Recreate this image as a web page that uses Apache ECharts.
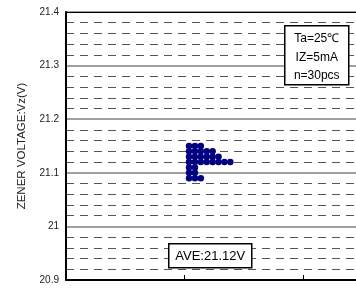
<!DOCTYPE html>
<html>
<head>
<meta charset="utf-8">
<script src="https://cdn.jsdelivr.net/npm/echarts@6/dist/echarts.min.js"></script>
<style>
html, body { margin: 0; padding: 0; background: #fff; }
#main { width: 356px; height: 290px; }
</style>
</head>
<body>
<div id="main"></div>
<script>
// 每个点：列序号 + 电压
var dotCol = [0, 1, 2,
    0, 1, 2, 3, 4,
    0, 1, 2, 3, 4, 5,
    0, 1, 2, 3, 4, 5, 6, 7,
    0, 1,
    0, 1,
    0, 1, 2];
var dotVz = [21.15, 21.15, 21.15,
    21.14, 21.14, 21.14, 21.14, 21.14,
    21.13, 21.13, 21.13, 21.13, 21.13, 21.13,
    21.12, 21.12, 21.12, 21.12, 21.12, 21.12, 21.12, 21.12,
    21.11, 21.11,
    21.10, 21.10,
    21.09, 21.09, 21.09];
var yLabels = ['20.9', '21', '21.1', '21.2', '21.3', '21.4'];
var condText = ['Ta=25℃', 'IZ=5mA', 'n=30pcs'];
var aveText = 'AVE:21.12V';

var chart = echarts.init(document.querySelector('#main'));

var dots = dotCol.map(function (c, i) { return [c, dotVz[i]]; });

var option = {
    animation: false,
    textStyle: { fontFamily: 'Liberation Sans, Arial, sans-serif' },
    grid: { left: 66, top: 12, right: 0, bottom: 10 },
    xAxis: [
        {
            type: 'value', min: 0, max: 2.447, interval: 1,
            axisLine: { lineStyle: { color: '#000', width: 2 } },
            axisTick: { inside: true, length: 5, lineStyle: { color: '#000' } },
            axisLabel: { show: false },
            splitLine: { show: false }
        },
        {
            type: 'value', min: -20.85, max: 28.3, show: false
        },
        {
            type: 'value', position: 'top', min: 0, max: 1,
            axisLine: { show: true, onZero: false, lineStyle: { color: '#000', width: 1 } },
            axisTick: { show: false }, axisLabel: { show: false }, splitLine: { show: false }
        }
    ],
    yAxis: {
        type: 'value', min: 20.9, max: 21.4, interval: 0.1,
        name: 'ZENER VOLTAGE:Vz(V)',
        nameLocation: 'middle', nameGap: 38, nameRotate: 90,
        nameTextStyle: { fontSize: 11.5, color: '#222' },
        axisLine: { show: true, lineStyle: { color: '#000', width: 2 } },
        axisTick: { show: false },
        axisLabel: {
            fontSize: 10, color: '#222', margin: 7,
            formatter: function (v) {
                var i = Math.round((v - 20.9) * 10);
                return yLabels[i];
            }
        },
        splitLine: { show: true, lineStyle: { color: '#808080', width: 1.5 } },
        minorTick: { show: false, splitNumber: 5 },
        minorSplitLine: { show: true, lineStyle: { color: '#555', width: 1, type: [8, 6] } }
    },
    series: [
        {
            type: 'scatter', xAxisIndex: 1,
            symbol: 'circle', symbolSize: 6.5,
            itemStyle: { color: '#000080', opacity: 1 },
            data: dots
        }
    ],
    graphic: [
        {
            type: 'group', left: 284, top: 25, z: 100,
            children: [
                { type: 'rect', z: 100, shape: { x: 0, y: 0, width: 64, height: 59 }, style: { fill: '#fff', stroke: '#000', lineWidth: 1.5 } },
                { type: 'text', z: 101, x: 32, y: 13, style: { text: condText[0], fill: '#000', font: '12px Liberation Sans', align: 'center', verticalAlign: 'middle' } },
                { type: 'text', z: 101, x: 32, y: 32, style: { text: condText[1], fill: '#000', font: '12px Liberation Sans', align: 'center', verticalAlign: 'middle' } },
                { type: 'text', z: 101, x: 32, y: 50, style: { text: condText[2], fill: '#000', font: '12px Liberation Sans', align: 'center', verticalAlign: 'middle' } }
            ]
        },
        {
            type: 'group', left: 168, top: 243, z: 100,
            children: [
                { type: 'rect', z: 100, shape: { x: 0, y: 0, width: 83, height: 24 }, style: { fill: '#fff', stroke: '#000', lineWidth: 1.5 } },
                { type: 'text', z: 101, x: 41.5, y: 12.5, style: { text: aveText, fill: '#000', font: '13px Liberation Sans', align: 'center', verticalAlign: 'middle' } }
            ]
        }
    ]
};

chart.setOption(option);

window.addEventListener('resize', function () {
    chart.resize();
});
</script>
</body>
</html>
